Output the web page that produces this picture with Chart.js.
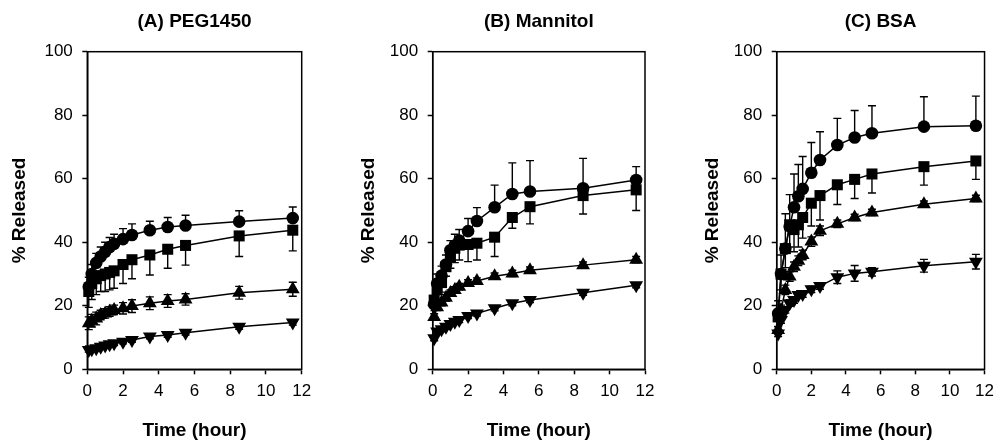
<!DOCTYPE html>
<html>
<head>
<meta charset="utf-8">
<script src="https://cdn.jsdelivr.net/npm/chart.js@4.4.0/dist/chart.umd.min.js"></script>
<style>
html, body { margin: 0; padding: 0; background: #fff; }
#wrap { position: relative; width: 1001px; height: 440px; overflow: hidden; }
#wrap canvas { position: absolute; top: 0; }
</style>
</head>
<body>
<div id="wrap">
  <canvas id="chartA" width="333" height="440" style="left:0px"></canvas>
  <canvas id="chartB" width="334" height="440" style="left:333px"></canvas>
  <canvas id="chartC" width="334" height="440" style="left:667px"></canvas>
</div>
<script>
'use strict';
// sampling times (hour)
var times = [0.083, 0.25, 0.5, 0.75, 1, 1.25, 1.5, 2, 2.5, 3.5, 4.5, 5.5, 8.5, 11.5];
var xTicks = [0, 2, 4, 6, 8, 10, 12];
var yTicks = [0, 20, 40, 60, 80, 100];

// (A) PEG1450
var pegCircle      = [26, 30, 33.5, 35.5, 37, 38.5, 39.5, 41, 42.3, 43.8, 44.8, 45.3, 46.5, 47.6];
var pegCircleErr   = [3, 3, 3, 3, 3, 3, 3, 3.3, 3.5, 2.8, 3, 3.2, 3.4, 3.5];
var pegSquare      = [24.5, 27, 28.5, 29.5, 30, 30.5, 31, 33, 34.5, 36, 37.8, 39, 42, 43.8];
var pegSquareErr   = [5, 5, 5, 5, 5.5, 5.5, 5.5, 6, 6, 6.3, 6, 6.2, 6.5, 6.5];
var pegTriangle    = [14.5, 15.3, 16, 17.1, 17.6, 18.2, 18.7, 19.2, 19.9, 20.8, 21.5, 22, 24.1, 25.2];
var pegTriangleErr = [2, 2, 2, 1.5, 1.5, 1.5, 1.5, 1.8, 2, 2, 2, 1.8, 2, 2.2];
var pegInverted    = [6.1, 6.3, 6.6, 7.1, 7.5, 7.9, 8.2, 8.7, 9.2, 10.3, 10.8, 11.5, 13.4, 14.7];
var pegInvertedErr = [0.7, 0.7, 0.7, 0.7, 0.7, 0.7, 0.7, 0.7, 0.7, 0.7, 0.7, 0.7, 0.8, 0.8];

// (B) Mannitol
var manCircle      = [20.5, 27, 29.5, 33, 37.5, 39, 40.5, 43.5, 46.7, 51, 55.2, 56, 57, 59.6];
var manCircleErr   = [2, 3, 3, 3, 3, 3.5, 3.5, 4, 4.2, 7, 9.8, 9.7, 9.4, 4.2];
var manSquare      = [21.8, 25, 27.3, 32.3, 35.5, 38.1, 39.1, 39.3, 39.7, 41.6, 47.8, 51.2, 54.7, 56.5];
var manSquareErr   = [2, 3, 3, 3, 3.7, 4.5, 4.7, 5.4, 5.3, 6.1, 3.4, 5.4, 5.8, 6.5];
var manTriangle    = [16.5, 19.5, 21, 22.5, 24, 25, 26, 27.2, 27.8, 29.3, 30.2, 31.2, 32.8, 34.5];
var manTriangleErr = [1, 1, 1, 1, 1, 1, 1, 1, 1, 1, 1, 1, 1, 1];
var manInverted    = [9.8, 11.9, 12.6, 13.4, 14.3, 15, 15.5, 16.8, 17.6, 19.2, 20.8, 21.8, 24.1, 26.5];
var manInvertedErr = [0.8, 0.8, 0.8, 0.8, 0.8, 0.8, 0.8, 0.8, 0.8, 0.8, 0.8, 0.8, 0.8, 0.8];

// (C) BSA
var bsaCircle      = [17.6, 30, 38, 45, 51, 54.5, 56.8, 61.9, 65.9, 70.6, 73, 74.3, 76.4, 76.7];
var bsaCircleErr   = [4, 6, 11, 10, 10.5, 10, 10.2, 9.5, 8.9, 8.4, 8.5, 8.7, 9.4, 9.3];
var bsaSquare      = [16.5, 30, 38, 45.5, 44, 45.5, 47.8, 52.3, 54.7, 58.1, 59.8, 61.5, 63.8, 65.6];
var bsaSquareErr   = [3, 5, 6, 7, 7, 7, 6.5, 7.2, 7.7, 6.2, 6, 6, 5.8, 5.8];
var bsaTriangle    = [12.4, 18.7, 25, 29.2, 32.3, 34.2, 36, 40.2, 43.6, 45.8, 47.8, 49.4, 52, 53.8];
var bsaTriangleErr = [1, 1.5, 1.5, 1.5, 1.5, 1.5, 1.5, 1.5, 1.5, 1.2, 1, 1, 1, 1];
var bsaInverted    = [11.3, 15.5, 18.7, 20.8, 21.8, 23.4, 23.7, 25.2, 26.2, 29, 30.2, 30.7, 32.6, 33.9];
var bsaInvertedErr = [1, 1, 1, 1, 1, 1, 1, 1, 1, 2, 2.5, 1.3, 2, 2.3];

Chart.defaults.font.family = '"Liberation Sans", Arial, Helvetica, sans-serif';
Chart.defaults.color = '#000';

/**
 * Draws error bars behind the markers, using each dataset's errors / errDir
 */
var errorBars = {
    id: 'errorBars',
    beforeDatasetsDraw: function(chart) {
        var ctx = chart.ctx;
        var xs = chart.scales.x;
        var ys = chart.scales.y;
        ctx.save();
        ctx.strokeStyle = '#000';
        ctx.lineWidth = 1.4;
        chart.data.datasets.forEach(function(ds) {
            ds.data.forEach(function(p, i) {
                var err = ds.errors[i];
                var px = xs.getPixelForValue(p.x);
                var hi = ys.getPixelForValue(ds.errDir === 'down' ? p.y : p.y + err);
                var lo = ys.getPixelForValue(ds.errDir === 'up' ? p.y : p.y - err);
                ctx.beginPath();
                ctx.moveTo(px, hi);
                ctx.lineTo(px, lo);
                if (ds.errDir !== 'down') {
                    ctx.moveTo(px - 4, hi);
                    ctx.lineTo(px + 4, hi);
                }
                if (ds.errDir !== 'up') {
                    ctx.moveTo(px - 4, lo);
                    ctx.lineTo(px + 4, lo);
                }
                ctx.stroke();
            });
        });
        ctx.restore();
    }
};

/**
 * Closes the plot box (top and right edges)
 */
var frame = {
    id: 'frame',
    beforeDatasetsDraw: function(chart) {
        var a = chart.chartArea;
        var ctx = chart.ctx;
        ctx.save();
        ctx.strokeStyle = '#000';
        ctx.lineWidth = 1.5;
        ctx.strokeRect(a.left, a.top, a.right - a.left, a.bottom - a.top);
        ctx.restore();
    }
};

var toPoints = function(values) {
    return times.map(function(t, i) { return {x: t, y: values[i]}; });
};

var makeSeries = function(values, errors, style, radius, rotation, errDir) {
    return {
        data: toPoints(values),
        errors: errors,
        errDir: errDir,
        borderColor: '#000',
        backgroundColor: '#000',
        borderWidth: 1.5,
        pointStyle: style,
        pointRadius: radius,
        pointRotation: rotation,
        pointBorderWidth: 0,
        pointBackgroundColor: '#000',
        pointBorderColor: '#000',
        tension: 0,
        clip: false
    };
};

var buildChart = function(id, title, series, yWidth, yTitlePad, rightPad) {
    return new Chart(document.getElementById(id), {
        type: 'line',
        data: {
            datasets: [
                makeSeries(series[6], series[7], 'triangle', 8, 180, 'both'),
                makeSeries(series[4], series[5], 'triangle', 8, 0, 'both'),
                makeSeries(series[2], series[3], 'rect', 7.8, 0, 'down'),
                makeSeries(series[0], series[1], 'circle', 6.3, 0, 'up')
            ]
        },
        options: {
            responsive: false,
            animation: false,
            devicePixelRatio: 1,
            layout: { padding: { left: 0, right: rightPad, top: 0, bottom: 0 } },
            plugins: {
                legend: { display: false },
                tooltip: { enabled: false },
                title: {
                    display: true,
                    text: title,
                    fullSize: false,
                    color: '#000',
                    font: { size: 19, weight: 'bold', lineHeight: 1.2 },
                    padding: { top: 10, bottom: 18.9 }
                }
            },
            scales: {
                x: {
                    type: 'linear',
                    min: 0,
                    max: 12,
                    afterBuildTicks: function(s) { s.ticks = xTicks.map(function(v) { return {value: v}; }); },
                    afterFit: function(s) { s.height = 70.7; },
                    grid: { drawOnChartArea: false, tickLength: 5, color: '#000', tickWidth: 1.5 },
                    border: { display: true, color: '#000', width: 1.5 },
                    ticks: { color: '#000', font: { size: 17 }, padding: 7, maxRotation: 0, autoSkip: false },
                    title: {
                        display: true, text: 'Time (hour)', color: '#000',
                        font: { size: 19, weight: 'bold', lineHeight: 1 },
                        padding: { top: 0, bottom: 0 }
                    }
                },
                y: {
                    type: 'linear',
                    min: 0,
                    max: 100,
                    afterBuildTicks: function(s) { s.ticks = yTicks.map(function(v) { return {value: v}; }); },
                    afterFit: function(s) { s.width = yWidth; },
                    grid: { drawOnChartArea: false, tickLength: 5, color: '#000', tickWidth: 1.5 },
                    border: { display: true, color: '#000', width: 1.5 },
                    ticks: { color: '#000', font: { size: 17 }, padding: 9.5 },
                    title: {
                        display: true, text: '% Released', color: '#000',
                        font: { size: 19, weight: 'bold', lineHeight: 1 },
                        padding: { top: yTitlePad, bottom: 0 }
                    }
                }
            }
        },
        plugins: [frame, errorBars]
    });
};

buildChart('chartA', '(A) PEG1450',
    [pegCircle, pegCircleErr, pegSquare, pegSquareErr, pegTriangle, pegTriangleErr, pegInverted, pegInvertedErr],
    87.3, 10.5, 31.3);
buildChart('chartB', '(B) Mannitol',
    [manCircle, manCircleErr, manSquare, manSquareErr, manTriangle, manTriangleErr, manInverted, manInvertedErr],
    99.7, 26.5, 22);
buildChart('chartC', '(C) BSA',
    [bsaCircle, bsaCircleErr, bsaSquare, bsaSquareErr, bsaTriangle, bsaTriangleErr, bsaInverted, bsaInvertedErr],
    109.7, 36, 12);
</script>
</body>
</html>
